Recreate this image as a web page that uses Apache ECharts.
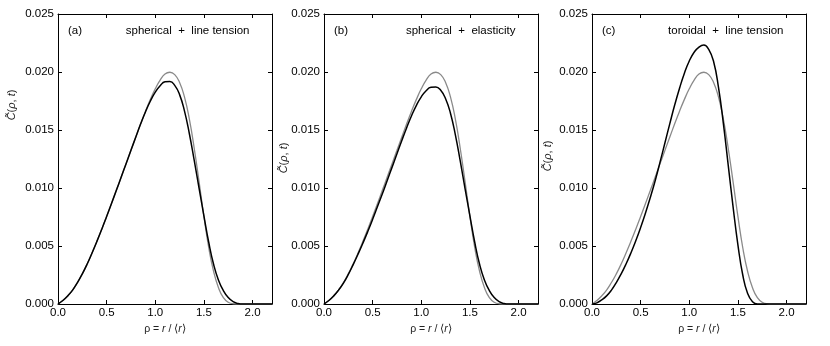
<!DOCTYPE html>
<html>
<head>
<meta charset="utf-8">
<script src="https://cdn.jsdelivr.net/npm/echarts@6/dist/echarts.min.js"></script>
<style>
html,body{margin:0;padding:0;background:#fff;}
#chart{width:830px;height:346px;}
</style>
</head>
<body>
<div id="chart"></div>
<script>
// ---- data ----
const rho = [0.00,0.05,0.10,0.15,0.20,0.25,0.30,0.35,0.40,0.45,0.50,0.55,0.60,0.65,0.70,0.75,0.80,0.85,0.90,0.95,
             1.00,1.05,1.10,1.15,1.20,1.25,1.30,1.35,1.40,1.45,1.50,1.55,1.60,1.65,1.70,1.75,1.80,1.85,1.90,1.95,
             2.00,2.05,2.10,2.15,2.20];

// grey reference curve (same in all three panels)
const reference = [0,0.0003,0.0007,0.0012,0.00185,0.0026,0.00345,0.0044,0.0054,0.00645,0.00755,0.00867,0.0098,0.01095,0.0121,0.01325,0.0144,0.01553,0.01662,0.01764,
                   0.01855,0.0193,0.01983,0.01998,0.01977,0.0191,0.01785,0.01595,0.01345,0.01055,0.00755,0.00485,0.0028,0.0014,0.00055,0.00015,0.00002,0,0,0,
                   0,0,0,0,0];

// (a) spherical + line tension
const sphericalLineTension = [0,0.0003,0.0007,0.0012,0.00185,0.0026,0.00345,0.0044,0.0054,0.00645,0.00755,0.00867,0.0098,0.01095,0.0121,0.01325,0.0144,0.01553,0.01658,0.0175,
                   0.01826,0.01882,0.01915,0.01918,0.01885,0.01805,0.01665,0.0147,0.0124,0.0100,0.0076,0.0053,0.0034,0.00205,0.00115,0.00055,0.0002,0.00005,0,0,
                   0,0,0,0,0];

// (b) spherical + elasticity
const sphericalElasticity = [0,0.0003,0.0007,0.0012,0.0018,0.00255,0.0034,0.0043,0.00525,0.00625,0.0073,0.0084,0.0095,0.01065,0.0118,0.01295,0.0141,0.0152,0.01623,0.01713,
                   0.01786,0.01839,0.01868,0.01871,0.01842,0.0177,0.01645,0.0146,0.01235,0.00995,0.0076,0.0053,0.0034,0.00205,0.00115,0.00055,0.0002,0.00005,0,0,
                   0,0,0,0,0];

// (c) toroidal + line tension
const toroidalLineTension = [0,0.0001,0.00035,0.0007,0.0012,0.00185,0.0026,0.00345,0.0044,0.00545,0.0066,0.00785,0.0092,0.01065,0.01225,0.0139,0.01555,0.01715,0.0186,0.0199,
                   0.02095,0.0217,0.02215,0.02232,0.02195,0.0209,0.0187,0.0156,0.0120,0.0084,0.0051,0.0025,0.0009,0.0002,0,0,0,0,0,0,
                   0,0,0,0,0];

const panelTags = ['(a)', '(b)', '(c)'];
const panelTitles = ['spherical  +  line tension', 'spherical  +  elasticity', 'toroidal  +  line tension'];
const panelCurves = [sphericalLineTension, sphericalElasticity, toroidalLineTension];
const xTickValues = [0, 0.5, 1.0, 1.5, 2.0];
const yTickValues = [0, 0.005, 0.010, 0.015, 0.020, 0.025];

// ---- layout ----
const W = 830;
const gridLefts = [58, 324, 592];
const gridW = 214, gridTop = 14, gridH = 290;
const yNameOffset = [46.5, 40.5, 44];
const yNameCenter = [105, 158, 156];
const FONT = 'Liberation Sans, Arial, Helvetica, sans-serif';

const grids = [], xAxes = [], yAxes = [], series = [], titles = [], graphics = [];
const axisLineStyle = {show: true, onZero: false, lineStyle: {color: '#000', width: 1}};
const tickStyle = {show: true, inside: true, length: 4, lineStyle: {color: '#000', width: 1}};

for (let i = 0; i < 3; i++) {
  grids.push({left: gridLefts[i], top: gridTop, width: gridW, height: gridH, containLabel: false});
}
for (let i = 0; i < 3; i++) {
  xAxes.push({
    type: 'value', gridIndex: i, position: 'bottom',
    min: 0, max: 2.2, interval: 0.5,
    axisLine: axisLineStyle, axisTick: tickStyle, splitLine: {show: false},
    axisLabel: {margin: 3, color: '#000', fontSize: 11.5, fontFamily: FONT, showMaxLabel: false,
      formatter: v => { const k = xTickValues.indexOf(Math.round(v * 10) / 10); return k >= 0 ? xTickValues[k].toFixed(1) : ''; }},
    name: '{n|ρ = }{i|r}{n| / ⟨}{i|r}{n|⟩}', nameLocation: 'middle', nameGap: 12,
    nameTextStyle: {color: '#222', fontSize: 10.5, fontFamily: FONT,
      rich: {n: {fontSize: 10.5, fontFamily: FONT, color: '#222'}, i: {fontSize: 10.5, fontFamily: FONT, fontStyle: 'italic', color: '#222'}}}
  });
}
for (let i = 0; i < 3; i++) {
  xAxes.push({
    type: 'value', gridIndex: i, position: 'top',
    min: 0, max: 2.2, interval: 0.5,
    axisLine: axisLineStyle, axisTick: tickStyle, splitLine: {show: false},
    axisLabel: {show: false}
  });
}
for (let i = 0; i < 3; i++) {
  yAxes.push({
    type: 'value', gridIndex: i, position: 'left',
    min: 0, max: 0.025, interval: 0.005,
    axisLine: axisLineStyle, axisTick: tickStyle, splitLine: {show: false},
    axisLabel: {margin: 4, color: '#000', fontSize: 11.5, fontFamily: FONT,
      formatter: v => v.toFixed(3)}
  });
}
for (let i = 0; i < 3; i++) {
  yAxes.push({
    type: 'value', gridIndex: i, position: 'right',
    min: 0, max: 0.025, interval: 0.005,
    axisLine: axisLineStyle, axisTick: tickStyle, splitLine: {show: false},
    axisLabel: {show: false}
  });
}
for (let i = 0; i < 3; i++) {
  series.push({
    type: 'line', xAxisIndex: i, yAxisIndex: i, name: 'reference',
    data: rho.map((x, k) => [x, reference[k]]),
    showSymbol: false, smooth: 0.5,
    lineStyle: {color: '#8a8a8a', width: 1.3}, z: 2
  });
  series.push({
    type: 'line', xAxisIndex: i, yAxisIndex: i, name: panelTitles[i],
    data: rho.map((x, k) => [x, panelCurves[i][k]]),
    showSymbol: false, smooth: 0.5,
    lineStyle: {color: '#000', width: 1.5}, z: 3
  });
  titles.push({text: panelTags[i], left: gridLefts[i] + 10, top: 25, padding: 0,
    textStyle: {fontSize: 11.5, fontWeight: 'normal', fontFamily: FONT, color: '#000'}});
  titles.push({text: panelTitles[i], right: W - (gridLefts[i] + gridW - 22.5), top: 25, padding: 0,
    textStyle: {fontSize: 11.5, fontWeight: 'normal', fontFamily: FONT, color: '#000'}});
  graphics.push({
    type: 'text', x: gridLefts[i] - yNameOffset[i], y: yNameCenter[i], rotation: Math.PI / 2,
    style: {text: '{i|C̃}({i|ρ}, {i|t})', fill: '#222', fontSize: 11, fontFamily: FONT,
      align: 'center', verticalAlign: 'middle',
      rich: {i: {fontStyle: 'italic', fontSize: 11, fontFamily: FONT, fill: '#222'}}}
  });
}

const chart = echarts.init(document.getElementById('chart'), null, {renderer: 'canvas'});
chart.setOption({
  animation: false,
  backgroundColor: '#fff',
  title: titles,
  grid: grids,
  xAxis: xAxes,
  yAxis: yAxes,
  series: series,
  graphic: graphics
});
</script>
</body>
</html>
